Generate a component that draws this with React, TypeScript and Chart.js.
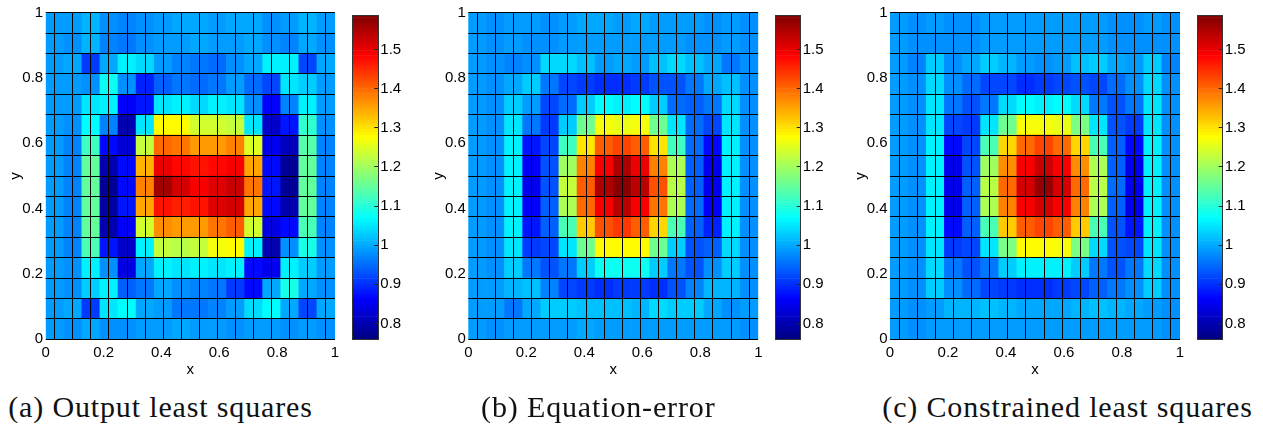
import React, { useEffect, useRef } from "react";
import { Chart, registerables } from "chart.js";

Chart.register(...registerables);

// ---------- data (rows listed from top y≈1 to bottom y≈0, columns x≈0 → 1) ----------
const outputLeastSquares: number[][] = [
  [0.99, 0.99, 1.01, 0.98, 0.97, 0.98, 0.99, 1.0, 1.0, 0.99, 1.0, 1.0, 0.98, 0.99, 1.01, 0.99],
  [0.99, 0.98, 1.01, 0.97, 0.96, 0.98, 0.99, 0.99, 1.0, 0.99, 0.99, 1.0, 0.98, 0.97, 1.0, 0.98],
  [0.99, 1.0, 0.91, 1.0, 1.06, 1.04, 0.99, 0.97, 0.96, 0.95, 0.98, 1.0, 1.06, 1.06, 0.92, 1.0],
  [0.99, 0.99, 0.98, 1.08, 0.98, 0.89, 0.94, 0.96, 0.95, 0.96, 0.99, 0.95, 0.92, 1.05, 1.03, 0.99],
  [0.99, 0.99, 1.05, 1.06, 0.86, 0.88, 1.05, 1.06, 1.04, 1.06, 1.05, 0.98, 0.86, 0.97, 1.06, 0.99],
  [0.99, 0.98, 1.07, 0.97, 0.8, 1.05, 1.28, 1.28, 1.24, 1.24, 1.23, 1.05, 0.82, 0.88, 1.11, 0.98],
  [0.99, 0.97, 1.12, 0.87, 0.83, 1.23, 1.4, 1.39, 1.36, 1.36, 1.38, 1.25, 0.85, 0.81, 1.14, 0.97],
  [0.99, 0.97, 1.15, 0.8, 0.87, 1.34, 1.5, 1.48, 1.47, 1.48, 1.49, 1.35, 0.87, 0.78, 1.15, 0.97],
  [0.99, 0.97, 1.15, 0.78, 0.87, 1.38, 1.56, 1.52, 1.49, 1.51, 1.53, 1.39, 0.88, 0.78, 1.15, 0.97],
  [0.99, 0.97, 1.15, 0.79, 0.88, 1.35, 1.47, 1.46, 1.47, 1.51, 1.52, 1.35, 0.87, 0.8, 1.15, 0.97],
  [0.99, 0.97, 1.15, 0.8, 0.86, 1.24, 1.37, 1.36, 1.36, 1.39, 1.41, 1.24, 0.84, 0.87, 1.13, 0.97],
  [0.99, 0.97, 1.13, 0.88, 0.82, 1.06, 1.23, 1.22, 1.23, 1.27, 1.28, 1.06, 0.8, 0.98, 1.09, 0.98],
  [0.99, 0.98, 1.06, 0.98, 0.84, 1.0, 1.06, 1.05, 1.06, 1.05, 1.06, 0.87, 0.85, 1.06, 1.03, 0.99],
  [0.99, 0.98, 1.03, 1.06, 0.94, 0.96, 1.0, 0.98, 0.97, 0.96, 0.91, 0.87, 1.0, 1.09, 1.0, 0.98],
  [0.99, 1.0, 0.91, 1.05, 1.07, 1.0, 0.99, 0.96, 0.96, 0.97, 0.99, 1.04, 1.07, 1.0, 0.92, 1.0],
  [0.99, 0.98, 1.0, 0.98, 0.98, 0.99, 0.99, 1.0, 0.99, 0.99, 0.98, 0.99, 0.99, 0.98, 0.99, 0.98],
];

const equationError: number[][] = [
  [0.99, 0.98, 0.99, 0.99, 0.98, 0.99, 1.0, 1.0, 0.99, 1.0, 0.99, 0.99, 0.99, 0.98, 0.99, 0.98],
  [0.99, 0.98, 0.99, 0.98, 0.98, 0.99, 0.99, 0.99, 0.99, 0.99, 0.99, 0.99, 0.98, 0.98, 0.99, 0.98],
  [0.99, 0.98, 0.97, 0.98, 1.04, 1.04, 1.02, 0.99, 1.0, 0.99, 1.02, 1.04, 1.02, 1.0, 0.96, 0.98],
  [0.99, 0.98, 1.0, 1.03, 0.96, 0.92, 0.91, 0.9, 0.9, 0.91, 0.93, 0.93, 0.96, 1.0, 1.02, 0.98],
  [0.99, 0.98, 1.03, 0.99, 0.92, 0.95, 1.03, 1.07, 1.06, 1.07, 1.03, 0.95, 0.94, 0.96, 1.04, 0.98],
  [0.99, 0.98, 1.05, 0.96, 0.91, 1.03, 1.16, 1.27, 1.26, 1.27, 1.16, 1.05, 0.95, 0.92, 1.05, 0.98],
  [0.99, 0.98, 1.06, 0.88, 0.92, 1.12, 1.3, 1.41, 1.43, 1.41, 1.3, 1.12, 0.95, 0.87, 1.06, 0.98],
  [0.99, 0.98, 1.06, 0.86, 0.93, 1.2, 1.38, 1.49, 1.55, 1.5, 1.38, 1.21, 0.94, 0.85, 1.06, 0.98],
  [0.99, 0.98, 1.06, 0.85, 0.93, 1.23, 1.41, 1.55, 1.58, 1.54, 1.42, 1.22, 0.94, 0.85, 1.06, 0.98],
  [0.99, 0.98, 1.06, 0.86, 0.94, 1.21, 1.4, 1.49, 1.54, 1.49, 1.39, 1.21, 0.95, 0.86, 1.06, 0.98],
  [0.99, 0.98, 1.06, 0.88, 0.94, 1.13, 1.32, 1.42, 1.44, 1.41, 1.31, 1.13, 0.94, 0.89, 1.06, 0.98],
  [0.99, 0.98, 1.05, 0.91, 0.92, 1.05, 1.16, 1.28, 1.28, 1.28, 1.16, 1.03, 0.93, 0.94, 1.04, 0.98],
  [0.99, 0.98, 1.03, 0.96, 0.93, 0.96, 1.03, 1.08, 1.08, 1.08, 1.03, 0.96, 0.93, 0.98, 1.03, 0.98],
  [0.99, 0.99, 1.01, 1.02, 0.97, 0.92, 0.91, 0.9, 0.91, 0.91, 0.9, 0.93, 0.97, 1.01, 1.01, 0.98],
  [0.99, 0.99, 0.96, 1.0, 1.03, 1.03, 1.02, 1.02, 1.02, 1.01, 1.04, 1.03, 1.03, 1.0, 0.98, 0.99],
  [0.99, 0.98, 0.99, 0.99, 0.99, 0.99, 1.0, 0.99, 0.99, 0.99, 0.99, 0.99, 0.99, 0.99, 0.99, 0.98],
];

const constrainedLeastSquares: number[][] = [
  [0.99, 0.98, 0.99, 0.98, 0.98, 0.99, 0.99, 0.99, 0.99, 0.99, 0.99, 0.99, 0.98, 0.98, 0.99, 0.98],
  [0.99, 0.98, 0.98, 0.98, 0.98, 0.99, 0.99, 0.99, 0.99, 0.99, 0.99, 0.99, 0.98, 0.98, 0.98, 0.98],
  [0.99, 0.97, 1.03, 0.98, 1.0, 1.03, 1.01, 0.99, 0.98, 0.99, 1.02, 1.03, 1.0, 0.99, 1.03, 0.97],
  [0.99, 0.98, 1.04, 0.98, 0.95, 0.92, 0.92, 0.9, 0.91, 0.92, 0.93, 0.92, 0.95, 0.98, 1.04, 0.98],
  [0.99, 0.98, 1.05, 0.96, 0.93, 0.96, 1.04, 1.07, 1.06, 1.07, 1.04, 0.96, 0.93, 0.96, 1.05, 0.98],
  [0.99, 0.98, 1.05, 0.92, 0.91, 1.05, 1.16, 1.27, 1.27, 1.26, 1.17, 1.05, 0.93, 0.91, 1.05, 0.98],
  [0.99, 0.98, 1.06, 0.87, 0.92, 1.13, 1.31, 1.4, 1.43, 1.4, 1.31, 1.13, 0.94, 0.87, 1.06, 0.98],
  [0.99, 0.98, 1.06, 0.85, 0.93, 1.2, 1.37, 1.49, 1.53, 1.49, 1.37, 1.21, 0.94, 0.85, 1.06, 0.98],
  [0.99, 0.98, 1.06, 0.85, 0.94, 1.22, 1.4, 1.52, 1.57, 1.52, 1.4, 1.22, 0.95, 0.85, 1.06, 0.98],
  [0.99, 0.98, 1.06, 0.85, 0.94, 1.21, 1.38, 1.49, 1.52, 1.49, 1.38, 1.21, 0.94, 0.85, 1.06, 0.98],
  [0.99, 0.98, 1.06, 0.87, 0.94, 1.13, 1.32, 1.41, 1.43, 1.41, 1.32, 1.13, 0.93, 0.88, 1.06, 0.98],
  [0.99, 0.98, 1.05, 0.91, 0.92, 1.05, 1.17, 1.28, 1.28, 1.27, 1.17, 1.04, 0.93, 0.92, 1.05, 0.98],
  [0.99, 0.98, 1.04, 0.96, 0.93, 0.96, 1.03, 1.06, 1.06, 1.06, 1.03, 0.96, 0.93, 0.96, 1.04, 0.98],
  [0.99, 0.98, 1.03, 0.98, 0.95, 0.92, 0.91, 0.9, 0.9, 0.91, 0.92, 0.94, 0.96, 0.98, 1.03, 0.98],
  [0.99, 0.98, 0.99, 1.01, 1.01, 1.02, 1.01, 1.0, 1.0, 1.0, 1.01, 1.02, 1.01, 1.0, 0.99, 0.98],
  [0.99, 0.98, 0.99, 0.99, 0.99, 0.99, 0.99, 0.99, 0.99, 0.99, 0.99, 0.99, 0.99, 0.99, 0.99, 0.98],
];

const panelData: number[][][] = [outputLeastSquares, equationError, constrainedLeastSquares];
const captions: string[] = ["(a) Output least squares", "(b) Equation-error", "(c) Constrained least squares"];
const axisTicks: number[] = [0, 0.2, 0.4, 0.6, 0.8, 1];
const colorbarTicks: number[] = [0.8, 0.9, 1, 1.1, 1.2, 1.3, 1.4, 1.5];
const colorMin = 0.7595;
const colorMax = 1.5886;
const colorbarLevels = 128;

// ---------- layout ----------
const layouts = [
  { plotL: 45.7, plotR: 335.0, cbL: 352.7, cbR: 378.3, capX: 160.5 },
  { plotL: 468.3, plotR: 758.3, cbL: 775.0, cbR: 800.7, capX: 598.3 },
  { plotL: 890.0, plotR: 1180.0, cbL: 1197.3, cbR: 1222.7, capX: 1067.5 },
];
const plotTop = 12.7;
const plotBottom = 339.3;
const cbTop = 11.7;
const H = 385;
const tickFont = { family: "'Liberation Sans', Arial, sans-serif", size: 15 };

function clamp01(v: number) {
  return Math.max(0, Math.min(1, v));
}
function jet(v: number): string {
  const t = clamp01((v - colorMin) / (colorMax - colorMin));
  const r = clamp01(1.5 - Math.abs(4 * t - 3));
  const g = clamp01(1.5 - Math.abs(4 * t - 2));
  const b = clamp01(1.5 - Math.abs(4 * t - 1));
  return `rgb(${Math.round(r * 255)},${Math.round(g * 255)},${Math.round(b * 255)})`;
}

function heatConfig(matrix: number[][], L: (typeof layouts)[number], left: number, W: number): any {
  const n = matrix.length;
  const cells: any[] = [];
  const colors: string[] = [];
  matrix.forEach((row, r) => {
    row.forEach((v, c) => {
      cells.push({ x: (c + 0.5) / n, y: [1 - (r + 1) / n, 1 - r / n] });
      colors.push(jet(v));
    });
  });
  const gridAxis = (axis: "x" | "y", position: string) => ({
    type: "linear",
    axis,
    position,
    min: 0,
    max: 1,
    offset: false,
    ticks: { display: false, stepSize: 1 / n, maxTicksLimit: 100 },
    grid: { display: true, color: "#000", lineWidth: 1, drawTicks: false, z: 1 },
    border: { display: false },
    afterFit: (s: any) => {
      if (axis === "x") s.height = 0;
      else s.width = 0;
    },
  });
  return {
    type: "bar",
    data: {
      datasets: [
        {
          data: cells,
          backgroundColor: colors,
          borderWidth: 0,
          barPercentage: 1,
          categoryPercentage: 1,
        },
      ],
    },
    options: {
      animation: false,
      responsive: false,
      events: [],
      layout: { padding: { top: plotTop, right: W - (L.plotR - left), left: 0, bottom: 0 } },
      plugins: { legend: { display: false }, tooltip: { enabled: false } },
      scales: {
        x: {
          type: "linear",
          position: "bottom",
          min: 0,
          max: 1,
          offset: false,
          grid: { display: false, drawTicks: false },
          border: { display: false },
          afterBuildTicks: (s: any) => {
            s.ticks = axisTicks.map((v) => ({ value: v }));
          },
          ticks: { font: tickFont, color: "#000", padding: 4.4, maxRotation: 0, autoSkip: false, callback: (v: any) => String(v) },
          title: { display: true, text: "x", font: tickFont, color: "#000", padding: { top: 0, bottom: 6.6 } },
          afterFit: (s: any) => {
            s.height = H - plotBottom;
          },
        },
        y: {
          type: "linear",
          position: "left",
          min: 0,
          max: 1,
          grid: { display: false, drawTicks: false },
          border: { display: false },
          afterBuildTicks: (s: any) => {
            s.ticks = axisTicks.map((v) => ({ value: v }));
          },
          ticks: { font: tickFont, color: "#000", padding: 2.5, autoSkip: false, callback: (v: any) => String(v) },
          title: { display: true, text: "y", font: tickFont, color: "#000", padding: { top: 6.5, bottom: 0 } },
          afterFit: (s: any) => {
            s.width = L.plotL - left;
          },
        },
        gx: gridAxis("x", "top"),
        gy: gridAxis("y", "right"),
      },
    },
  };
}

function colorbarConfig(L: (typeof layouts)[number], left: number, W: number): any {
  const step = (colorMax - colorMin) / colorbarLevels;
  const bands: any[] = [];
  const colors: string[] = [];
  for (let i = 0; i < colorbarLevels; i++) {
    const lo = colorMin + i * step;
    bands.push({ x: "cb", y: [lo, lo + step] });
    colors.push(jet(lo + step / 2));
  }
  return {
    type: "bar",
    data: {
      labels: ["cb"],
      datasets: [{ data: bands, backgroundColor: colors, borderWidth: 0, barPercentage: 1, categoryPercentage: 1 }],
    },
    options: {
      animation: false,
      responsive: false,
      events: [],
      layout: { padding: { top: cbTop, left: L.cbL - left, right: 0, bottom: H - plotBottom } },
      plugins: { legend: { display: false }, tooltip: { enabled: false } },
      scales: {
        x: {
          type: "category",
          position: "bottom",
          ticks: { display: false },
          grid: { display: true, offset: true, drawTicks: false, color: "#333", lineWidth: 1, z: 1 },
          border: { display: true, color: "#333", z: 1 },
          afterFit: (s: any) => {
            s.height = 0;
          },
        },
        x2: {
          type: "category",
          axis: "x",
          position: "top",
          ticks: { display: false },
          grid: { display: false, drawTicks: false },
          border: { display: true, color: "#333", z: 1 },
          afterFit: (s: any) => {
            s.height = 0;
          },
        },
        y: {
          type: "linear",
          position: "right",
          min: colorMin,
          max: colorMax,
          grid: { display: true, drawOnChartArea: false, drawTicks: true, tickLength: -4, color: "#222", z: 1 },
          border: { display: true, color: "#333", z: 1 },
          afterBuildTicks: (s: any) => {
            s.ticks = colorbarTicks.map((v) => ({ value: v }));
          },
          ticks: { font: tickFont, color: "#000", padding: 6, autoSkip: false, callback: (v: any) => String(v) },
          afterFit: (s: any) => {
            s.width = W - (L.cbR - left);
          },
        },
      },
    },
  };
}

function Panel({ idx }: { idx: number }) {
  const heatRef = useRef<HTMLCanvasElement>(null);
  const cbRef = useRef<HTMLCanvasElement>(null);
  const L = layouts[idx];
  const heatLeft = Math.floor(L.plotL) - 45;
  const heatW = Math.ceil(L.plotR) + 12 - heatLeft;
  const cbLeft = Math.floor(L.cbL) - 8;
  const cbW = Math.ceil(L.cbR) + 40 - cbLeft;

  useEffect(() => {
    const c1 = new Chart(heatRef.current as HTMLCanvasElement, heatConfig(panelData[idx], L, heatLeft, heatW));
    const c2 = new Chart(cbRef.current as HTMLCanvasElement, colorbarConfig(L, cbLeft, cbW));
    return () => {
      c1.destroy();
      c2.destroy();
    };
  }, [idx]);

  return (
    <>
      <canvas
        ref={heatRef}
        width={heatW}
        height={H}
        style={{ position: "absolute", left: heatLeft, top: 0, width: heatW, height: H }}
      />
      <canvas
        ref={cbRef}
        width={cbW}
        height={H}
        style={{ position: "absolute", left: cbLeft, top: 0, width: cbW, height: H }}
      />
      <div
        style={{
          position: "absolute",
          left: L.capX,
          top: 391.6,
          transform: "translateX(-50%)",
          whiteSpace: "nowrap",
          fontFamily: "'Liberation Serif', 'DejaVu Serif', serif",
          fontSize: 30,
          lineHeight: "30px",
          letterSpacing: "0.85px",
          color: "#111",
        }}
      >
        {captions[idx]}
      </div>
    </>
  );
}

export default function App() {
  return (
    <div style={{ position: "absolute", left: 0, top: 0, width: 1263, height: 425, background: "#fff", overflow: "hidden" }}>
      {layouts.map((_, i) => (
        <Panel key={i} idx={i} />
      ))}
    </div>
  );
}
